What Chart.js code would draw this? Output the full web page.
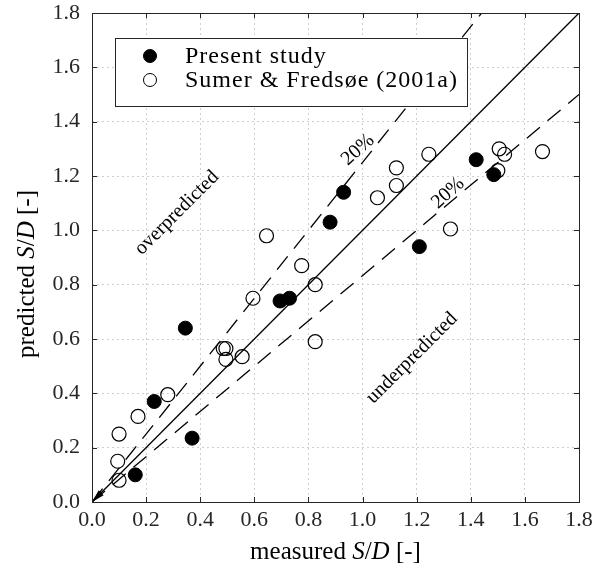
<!DOCTYPE html>
<html>
<head>
<meta charset="utf-8">
<script src="https://cdn.jsdelivr.net/npm/chart.js@4/dist/chart.umd.min.js"></script>
<style>
  html, body { margin: 0; padding: 0; background: #fff; }
</style>
</head>
<body>
<canvas id="myChart" width="595" height="573"></canvas>
<script>
// Present study (filled circles)
var presentX = [0.16, 0.23, 0.345, 0.37, 0.695, 0.73, 0.88, 0.93, 1.21, 1.42, 1.485];
var presentY = [0.10, 0.37, 0.64, 0.235, 0.74, 0.75, 1.03, 1.14, 0.94, 1.26, 1.205];

// Sumer & Fredsoe (2001a) (open circles)
var sumerX = [0.10, 0.095, 0.10, 0.17, 0.28, 0.485, 0.495, 0.495, 0.555, 0.595, 0.645, 0.775,
              0.825, 0.825, 1.055, 1.125, 1.125, 1.245, 1.325, 1.505, 1.525, 1.50, 1.665];
var sumerY = [0.08, 0.15, 0.25, 0.315, 0.395, 0.565, 0.565, 0.525, 0.535, 0.75, 0.98, 0.87,
              0.80, 0.59, 1.12, 1.23, 1.165, 1.28, 1.005, 1.30, 1.28, 1.22, 1.29];

// reference lines: perfect agreement and +/-20%
var perfectX = [0, 1.8], perfectY = [0, 1.8];
var upperX = [0, 1.44], upperY = [0, 1.8];
var lowerX = [0, 1.8], lowerY = [0, 1.5];

var tickValues = [0, 0.2, 0.4, 0.6, 0.8, 1.0, 1.2, 1.4, 1.6, 1.8];
var seriesNames = ['Present study', 'Sumer & Fredsøe (2001a)'];

var axisColor = '#262626';
var serif = '"Liberation Serif", "Times New Roman", serif';

function toPoints(xs, ys) {
    return xs.map(function (x, i) { return { x: x, y: ys[i] }; });
}

// text notes placed in data coordinates
var notes = [
    { text: 'overpredicted', x: 0.314, y: 1.064, angle: -45 },
    { text: 'underpredicted', x: 1.183, y: 0.530, angle: -45 },
    { text: '20%', x: 0.983, y: 1.296, angle: -42 },
    { text: '20%', x: 1.316, y: 1.137, angle: -42 }
];

function measureMixed(ctx, parts, size) {
    var w = 0;
    parts.forEach(function (p) {
        ctx.font = (p[1] ? 'italic ' : '') + size + 'px ' + serif;
        w += ctx.measureText(p[0]).width;
    });
    return w;
}

var framePlugin = {
    id: 'frame',
    afterDatasetsDraw: function (chart) {
        var ctx = chart.ctx, a = chart.chartArea;
        var x = chart.scales.x, y = chart.scales.y;
        ctx.save();

        // arrow head at the origin
        var ox = x.getPixelForValue(0), oy = y.getPixelForValue(0);
        var ang = Math.atan2(oy - y.getPixelForValue(1), x.getPixelForValue(1) - ox);
        var L = 13, W = 3.5;
        var bx = ox + L * Math.cos(ang), by = oy - L * Math.sin(ang);
        ctx.fillStyle = '#000';
        ctx.beginPath();
        ctx.moveTo(ox, oy);
        ctx.lineTo(bx + W * Math.sin(ang), by + W * Math.cos(ang));
        ctx.lineTo(bx - W * Math.sin(ang), by - W * Math.cos(ang));
        ctx.closePath();
        ctx.fill();

        // notes
        ctx.fillStyle = '#000';
        ctx.textAlign = 'center';
        ctx.textBaseline = 'middle';
        notes.forEach(function (n) {
            ctx.save();
            ctx.translate(x.getPixelForValue(n.x), y.getPixelForValue(n.y));
            ctx.rotate(n.angle * Math.PI / 180);
            ctx.font = '20px ' + serif;
            ctx.fillText(n.text, 0, 0);
            ctx.restore();
        });

        // legend box
        var lx = a.left + 23, ly = a.top + 25, lw = 352, lh = 68;
        ctx.fillStyle = '#fff';
        ctx.fillRect(lx, ly, lw, lh);
        ctx.strokeStyle = axisColor;
        ctx.lineWidth = 1;
        ctx.strokeRect(lx + 0.5, ly + 0.5, lw, lh);
        var rows = [
            { ds: chart.data.datasets[3], yy: ly + 18 },
            { ds: chart.data.datasets[4], yy: ly + 42 }
        ];
        rows.forEach(function (r) {
            ctx.beginPath();
            ctx.arc(lx + 35, r.yy, r.ds.pointRadius - 0.5, 0, Math.PI * 2);
            if (r.ds.backgroundColor !== 'rgba(0,0,0,0)') {
                ctx.fillStyle = r.ds.backgroundColor;
                ctx.fill();
            }
            ctx.strokeStyle = '#000';
            ctx.lineWidth = 1;
            ctx.stroke();
            ctx.fillStyle = '#000';
            ctx.textAlign = 'left';
            ctx.textBaseline = 'middle';
            ctx.font = '24px ' + serif;
            ctx.letterSpacing = '1px';
            ctx.fillText(r.ds.label, lx + 70, r.yy + 1);
            ctx.letterSpacing = '0px';
        });

        // axes box with inward ticks
        ctx.strokeStyle = axisColor;
        ctx.lineWidth = 1;
        ctx.strokeRect(a.left + 0.5, a.top + 0.5, a.right - a.left, a.bottom - a.top);
        ctx.beginPath();
        tickValues.forEach(function (v) {
            var px = Math.round(x.getPixelForValue(v)) + 0.5;
            ctx.moveTo(px, a.bottom); ctx.lineTo(px, a.bottom - 5);
            ctx.moveTo(px, a.top); ctx.lineTo(px, a.top + 5);
            var py = Math.round(y.getPixelForValue(v)) + 0.5;
            ctx.moveTo(a.left, py); ctx.lineTo(a.left + 5, py);
            ctx.moveTo(a.right, py); ctx.lineTo(a.right - 5, py);
        });
        ctx.stroke();

        // axis titles (S/D in italics)
        var size = 25;
        var parts = [['measured ', false], ['S', true], ['/', false], ['D', true], [' [-]', false]];
        var partsY = [['predicted ', false], ['S', true], ['/', false], ['D', true], [' [-]', false]];
        ctx.fillStyle = '#000';
        ctx.textAlign = 'left';
        ctx.textBaseline = 'alphabetic';
        var w = measureMixed(ctx, parts, size);
        var cx = (a.left + a.right) / 2 - w / 2;
        parts.forEach(function (p) {
            ctx.font = (p[1] ? 'italic ' : '') + size + 'px ' + serif;
            ctx.fillText(p[0], cx, 559);
            cx += ctx.measureText(p[0]).width;
        });
        var wy = measureMixed(ctx, partsY, size);
        ctx.save();
        ctx.translate(34, 274 + wy / 2);
        ctx.rotate(-Math.PI / 2);
        var cy = 0;
        partsY.forEach(function (p) {
            ctx.font = (p[1] ? 'italic ' : '') + size + 'px ' + serif;
            ctx.fillText(p[0], cy, 0);
            cy += ctx.measureText(p[0]).width;
        });
        ctx.restore();

        ctx.restore();
    }
};

var gridStyle = { color: '#cfcfcf', lineWidth: 1, drawTicks: false };
var tickFont = { family: serif, size: 22 };

var ctx = document.getElementById('myChart').getContext('2d');
var myChart = new Chart(ctx, {
    type: 'scatter',
    data: {
        datasets: [
            {
                label: 'perfect', data: toPoints(perfectX, perfectY), showLine: true,
                borderColor: '#000', borderWidth: 1.3, pointRadius: 0
            },
            {
                label: 'upper 20%', data: toPoints(upperX, upperY), showLine: true,
                borderColor: '#000', borderWidth: 1.3, borderDash: [17, 10], pointRadius: 0
            },
            {
                label: 'lower 20%', data: toPoints(lowerX, lowerY), showLine: true,
                borderColor: '#000', borderWidth: 1.3, borderDash: [17, 10], pointRadius: 0
            },
            {
                label: seriesNames[0], data: toPoints(presentX, presentY),
                backgroundColor: '#000', borderColor: '#000', borderWidth: 1, pointRadius: 7
            },
            {
                label: seriesNames[1], data: toPoints(sumerX, sumerY),
                backgroundColor: 'rgba(0,0,0,0)', borderColor: '#000', borderWidth: 1.2, pointRadius: 7
            }
        ]
    },
    options: {
        responsive: false,
        animation: false,
        events: [],
        layout: { padding: { top: 13, right: 16, left: 0, bottom: 0 } },
        plugins: { legend: { display: false }, tooltip: { enabled: false } },
        scales: {
            x: {
                type: 'linear', min: 0, max: 1.8,
                afterBuildTicks: function (s) { s.ticks = tickValues.map(function (v) { return { value: v }; }); },
                afterFit: function (s) { s.height = 71; s.paddingLeft = 0; s.paddingRight = 0; },
                grid: gridStyle,
                border: { display: false, dash: [2, 3] },
                ticks: { font: tickFont, color: axisColor, padding: 5, maxRotation: 0,
                          callback: function (v) { return v.toFixed(1); } }
            },
            y: {
                type: 'linear', min: 0, max: 1.8,
                afterBuildTicks: function (s) { s.ticks = tickValues.map(function (v) { return { value: v }; }); },
                afterFit: function (s) { s.width = 92; s.paddingTop = 0; s.paddingBottom = 0; },
                grid: gridStyle,
                border: { display: false, dash: [2, 3] },
                ticks: { font: tickFont, color: axisColor, padding: 12,
                          callback: function (v) { return v.toFixed(1); } }
            }
        }
    },
    plugins: [framePlugin]
});
</script>
</body>
</html>
